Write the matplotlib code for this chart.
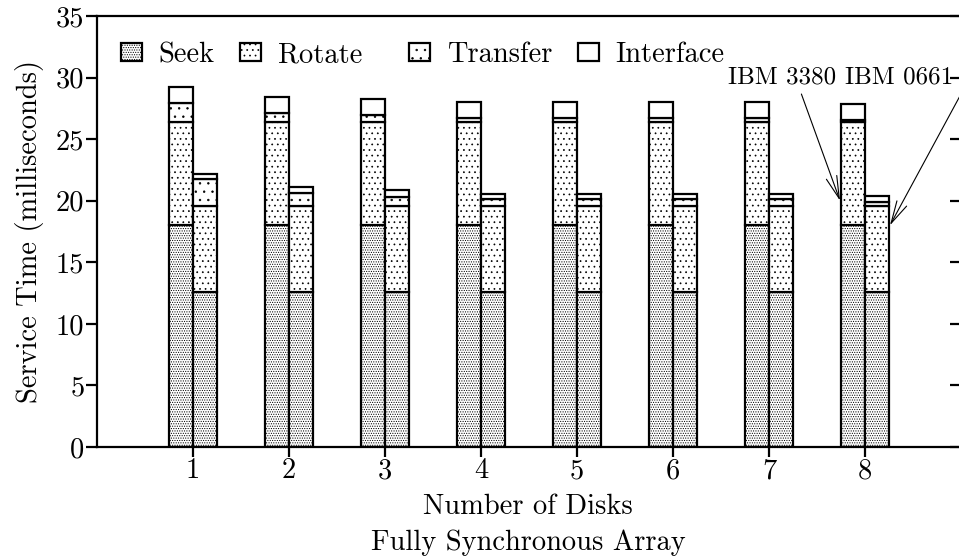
import matplotlib
matplotlib.use('Agg')
import matplotlib.pyplot as plt
import matplotlib.lines as mlines
from matplotlib.legend import Legend
import numpy as np

plt.rcParams['font.family'] = ['cmr10', 'DejaVu Serif']
plt.rcParams['mathtext.fontset'] = 'cm'
plt.rcParams['axes.unicode_minus'] = False
plt.rcParams['hatch.linewidth'] = 0.5
plt.rcParams['font.size'] = 20.5

disks = [1, 2, 3, 4, 5, 6, 7, 8]
components = ['Seek', 'Rotate', 'Transfer', 'Interface']

# IBM 3380 (left bar of each pair)
seek_3380 = [18.0, 18.0, 18.0, 18.0, 18.0, 18.0, 18.0, 18.0]
rotate_3380 = [8.4, 8.4, 8.4, 8.4, 8.4, 8.4, 8.4, 8.4]
transfer_3380 = [1.55, 0.75, 0.6, 0.33, 0.33, 0.33, 0.33, 0.16]
interface_3380 = [1.3, 1.3, 1.3, 1.3, 1.3, 1.3, 1.3, 1.3]

# IBM 0661 (right bar of each pair)
seek_0661 = [12.6, 12.6, 12.6, 12.6, 12.6, 12.6, 12.6, 12.6]
rotate_0661 = [7.0, 7.0, 7.0, 7.0, 7.0, 7.0, 7.0, 7.0]
transfer_0661 = [2.15, 1.05, 0.7, 0.5, 0.5, 0.5, 0.5, 0.3]
interface_0661 = [0.45, 0.5, 0.6, 0.45, 0.45, 0.45, 0.45, 0.45]

yticks = [0, 5, 10, 15, 20, 25, 30, 35]

hatches = ['.......', '...', '..', '']

fig = plt.figure(figsize=(9.59, 5.58), dpi=100)
ax = fig.add_axes([97 / 959, 111 / 558, 864 / 959, 431 / 558])

x = np.array(disks, dtype=float)
w = 0.25

def stack(xpos, parts):
    bottom = np.zeros(len(xpos))
    handles = []
    for vals, h in zip(parts, hatches):
        b = ax.bar(xpos, vals, w, bottom=bottom, facecolor='white',
                   edgecolor='black', hatch=h, linewidth=1.6, zorder=2)
        handles.append(b)
        bottom = bottom + np.array(vals)
    return handles

hs = stack(x - w / 2, [seek_3380, rotate_3380, transfer_3380, interface_3380])
stack(x + w / 2, [seek_0661, rotate_0661, transfer_0661, interface_0661])

ax.set_xlim(0, 9)
ax.set_ylim(0, 35)
ax.set_xticks(disks)
ax.set_yticks(yticks)
ax.spines['right'].set_visible(False)
for s in ['left', 'bottom', 'top']:
    ax.spines[s].set_linewidth(1.6)
ax.tick_params(axis='x', direction='out', length=7, width=1.6, pad=1)
ax.tick_params(axis='y', left=True, right=True, direction='out',
               length=8, width=1.6, pad=1)
# right-hand ticks point into the plot
for t in ax.yaxis.get_major_ticks():
    t.tick2line.set_marker(mlines.TICKLEFT)

fig.text(30 / 959, 1 - 232 / 558, 'Service Time (milliseconds)',
         rotation=90, ha='center', va='center')
fig.text(528 / 959, 1 - 507 / 558, 'Number of Disks', ha='center', va='center')
fig.text(528 / 959, 1 - 543 / 558, 'Fully Synchronous Array', ha='center', va='center')

# legend entries placed one by one to follow the original spacing
box_x = [121, 240, 409, 578]
for i, (h, name) in enumerate(zip(hs, components)):
    leg = Legend(ax, [h[0]], [name], loc='center left',
                 bbox_to_anchor=((box_x[i] - 97) / 864, 1 - 39 / 431),
                 frameon=False, handlelength=0.72, handleheight=0.62,
                 handletextpad=0.6, borderpad=0, borderaxespad=0)
    ax.add_artist(leg)

arrow = dict(arrowstyle='->,head_length=0.9,head_width=0.22',
             lw=0.8, color='black', shrinkA=2, shrinkB=0)
ax.annotate('IBM 3380', xy=(7.74, 20.0), xytext=(7.70, 30.0),
            ha='right', va='center', fontsize=18,
            arrowprops=dict(arrow, relpos=(0.66, 0.0)))
ax.annotate('IBM 0661', xy=(8.26, 18.0), xytext=(7.79, 30.0),
            ha='left', va='center', fontsize=18,
            arrowprops=dict(arrow, relpos=(1.1, 0.0)))

fig.savefig('out.png', dpi=100)
